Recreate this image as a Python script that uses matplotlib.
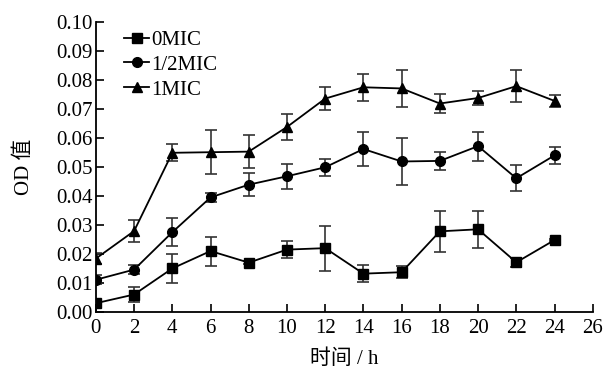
import numpy as np
import matplotlib
matplotlib.use('Agg')
import matplotlib.pyplot as plt
from matplotlib.lines import Line2D

plt.rcParams['font.family'] = ['Liberation Serif', 'Noto Sans CJK SC']

# time points (h)
hours = [0, 2, 4, 6, 8, 10, 12, 14, 16, 18, 20, 22, 24]

od_0mic = [0.003, 0.006, 0.015, 0.021, 0.017, 0.0215, 0.022, 0.0132, 0.0137, 0.0278, 0.0285, 0.0171, 0.0248]
err_0mic = [0.0008, 0.0025, 0.005, 0.005, 0.0006, 0.003, 0.0078, 0.003, 0.002, 0.007, 0.0064, 0.0015, 0.0005]

od_half = [0.0111, 0.0146, 0.0275, 0.0395, 0.0439, 0.0468, 0.0499, 0.0562, 0.0519, 0.0521, 0.0572, 0.0461, 0.0540]
err_half = [0.0015, 0.0015, 0.0048, 0.0015, 0.004, 0.0044, 0.003, 0.0057, 0.008, 0.003, 0.005, 0.0045, 0.003]

od_1mic = [0.0184, 0.0279, 0.0549, 0.0551, 0.0553, 0.0638, 0.0736, 0.0775, 0.0771, 0.0719, 0.0738, 0.0779, 0.0728]
err_1mic = [0.002, 0.0039, 0.003, 0.0076, 0.0056, 0.0044, 0.004, 0.0046, 0.0065, 0.0034, 0.0025, 0.0056, 0.002]

series = [
    ('0MIC', od_0mic, err_0mic, 's'),
    ('1/2MIC', od_half, err_half, 'o'),
    ('1MIC', od_1mic, err_1mic, '^'),
]

fig = plt.figure(figsize=(6.03, 3.74), dpi=100)
ax = fig.add_axes([0.159, 0.166, 0.824, 0.775])

handles = []
for name, vals, errs, mk in series:
    ax.errorbar(hours, vals, yerr=errs, color='black', ecolor='#333333',
                elinewidth=1.2, capsize=4, capthick=1.2, lw=1.3,
                marker=mk, markersize=7)
    handles.append(Line2D([], [], color='black', lw=1.3, marker=mk,
                          markersize=7, label=name))

ax.set_xlim(0, 26)
ax.set_ylim(0, 0.10)
ax.set_xticks(np.arange(0, 27, 2))
ax.set_yticks(np.arange(0, 0.101, 0.01))
ax.yaxis.set_major_formatter(plt.FormatStrFormatter('%.2f'))
ax.tick_params(direction='in', length=6, width=1.2, labelsize=15)
ax.tick_params(axis='y', pad=2)
ax.tick_params(axis='x', pad=5)
for s in ['top', 'right']:
    ax.spines[s].set_visible(False)
for s in ['left', 'bottom']:
    ax.spines[s].set_linewidth(1.3)

ax.set_xlabel('时间 / h', fontsize=15, labelpad=8)
ax.set_ylabel('OD 值', fontsize=15, labelpad=16)

ax.legend(handles=handles, loc='upper left', bbox_to_anchor=(0.04, 1.0),
          frameon=False, fontsize=15, handlelength=1.2, handletextpad=0.1,
          labelspacing=0.25, borderaxespad=0)

fig.savefig('out.png', dpi=100)
